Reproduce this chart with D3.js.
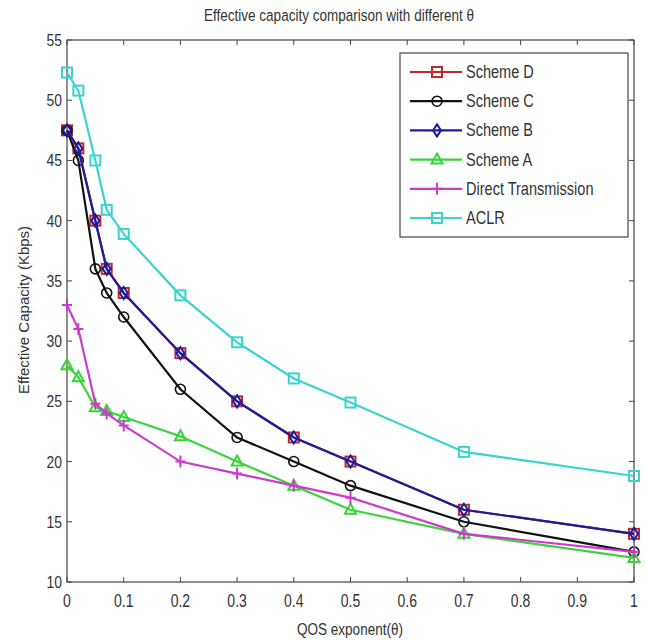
<!DOCTYPE html>
<html>
<head>
<meta charset="utf-8">
<script src="https://cdn.jsdelivr.net/npm/d3@7"></script>
<style>
  body { margin: 0; background: #fff; }
  text { font-family: 'Liberation Sans', Arial, sans-serif; fill: #333; }
</style>
</head>
<body>
<div class="chart"></div>
<script>
// Effective capacity vs QOS exponent

const THETA = [0, 0.02, 0.05, 0.07, 0.1, 0.2, 0.3, 0.4, 0.5, 0.7, 1]

const SCHEME_D = [47.5, 46, 40, 36, 34, 29, 25, 22, 20, 16, 14]
const SCHEME_C = [47.5, 45, 36, 34, 32, 26, 22, 20, 18, 15, 12.5]
const SCHEME_B = [47.5, 46, 40, 36, 34, 29, 25, 22, 20, 16, 14]
const SCHEME_A = [28, 27, 24.5, 24.2, 23.7, 22.1, 20, 18, 16, 14, 12]
const DIRECT = [33, 31, 24.8, 24, 23, 20, 19, 18, 17, 14, 12.5]
const ACLR = [52.3, 50.8, 45, 40.9, 38.9, 33.8, 29.9, 26.9, 24.9, 20.8, 18.8]

const X_TICKS = [0, 0.1, 0.2, 0.3, 0.4, 0.5, 0.6, 0.7, 0.8, 0.9, 1]
const Y_TICKS = [10, 15, 20, 25, 30, 35, 40, 45, 50, 55]

const SERIES = [
    { name: 'Scheme D', values: SCHEME_D, color: '#c0282c', marker: 'square' },
    { name: 'Scheme C', values: SCHEME_C, color: '#111111', marker: 'circle' },
    { name: 'Scheme B', values: SCHEME_B, color: '#1c1c9c', marker: 'diamond' },
    { name: 'Scheme A', values: SCHEME_A, color: '#3ad43a', marker: 'triangle' },
    { name: 'Direct Transmission', values: DIRECT, color: '#cc3ccc', marker: 'plus' },
    { name: 'ACLR', values: ACLR, color: '#3cd2d2', marker: 'square' },
]

var svgWidth = 646
var svgHeight = 642

var margin = { top: 40, bottom: 60, right: 12, left: 67 }
var width = svgWidth - margin.left - margin.right
var height = svgHeight - margin.top - margin.bottom

var svg = d3.select('.chart')
    .append('svg')
    .attr('width', svgWidth)
    .attr('height', svgHeight)

var chartGroup = svg.append('g')
    .attr('transform', `translate(${margin.left}, ${margin.top})`)

var xScale = d3.scaleLinear().domain([0, 1]).range([0, width])
var yScale = d3.scaleLinear().domain([10, 55]).range([height, 0])

// helper for squeezed, tall text like the matlab screenshot
function narrowText(parent, x, y, str, size, anchor, sx) {
    var g = parent.append('g').attr('transform', `translate(${x}, ${y}) scale(${sx || 0.82}, 1)`)
    g.append('text')
        .attr('text-anchor', anchor || 'middle')
        .attr('font-size', size + 'px')
        .text(str)
    return g
}

// ticks on all four sides, pointing inward
var tickLen = 5
X_TICKS.forEach(t => {
    chartGroup.append('line')
        .attr('x1', xScale(t)).attr('x2', xScale(t))
        .attr('y1', height).attr('y2', height - tickLen)
        .attr('stroke', '#444')
    chartGroup.append('line')
        .attr('x1', xScale(t)).attr('x2', xScale(t))
        .attr('y1', 0).attr('y2', tickLen)
        .attr('stroke', '#444')
    narrowText(chartGroup, xScale(t), height + 25, t, 18, 'middle', 0.78)
})
Y_TICKS.forEach(t => {
    chartGroup.append('line')
        .attr('x1', 0).attr('x2', tickLen)
        .attr('y1', yScale(t)).attr('y2', yScale(t))
        .attr('stroke', '#444')
    chartGroup.append('line')
        .attr('x1', width).attr('x2', width - tickLen)
        .attr('y1', yScale(t)).attr('y2', yScale(t))
        .attr('stroke', '#444')
    narrowText(chartGroup, -5, yScale(t) + 6, t, 17, 'end')
})

chartGroup.append('rect')
    .attr('width', width)
    .attr('height', height)
    .attr('fill', 'none')
    .attr('stroke', '#444')
    .attr('stroke-width', 1.2)

var line = d3.line()
    .x((d, i) => xScale(THETA[i]))
    .y(d => yScale(d))

function drawMarker(g, type, color) {
    if (type == 'square') {
        g.append('rect').attr('x', -5).attr('y', -5).attr('width', 10).attr('height', 10)
            .attr('fill', 'none').attr('stroke', color).attr('stroke-width', 2)
    } else if (type == 'circle') {
        g.append('circle').attr('r', 5)
            .attr('fill', 'none').attr('stroke', color).attr('stroke-width', 1.6)
    } else if (type == 'diamond') {
        g.append('path').attr('d', 'M0,-6L4,0L0,6L-4,0Z')
            .attr('fill', 'none').attr('stroke', color).attr('stroke-width', 2)
    } else if (type == 'triangle') {
        g.append('path').attr('d', 'M0,-6L5.5,4L-5.5,4Z')
            .attr('fill', 'none').attr('stroke', color).attr('stroke-width', 2)
    } else if (type == 'plus') {
        g.append('path').attr('d', 'M-5,0H5M0,-6V6')
            .attr('fill', 'none').attr('stroke', color).attr('stroke-width', 2)
    }
}

SERIES.forEach(s => {
    chartGroup.append('path')
        .datum(s.values)
        .attr('d', line)
        .attr('fill', 'none')
        .attr('stroke', s.color)
        .attr('stroke-width', 2.2)

    chartGroup.selectAll()
        .data(s.values)
        .enter()
        .append('g')
        .attr('transform', (d, i) => `translate(${xScale(THETA[i])}, ${yScale(d)})`)
        .each(function() { drawMarker(d3.select(this), s.marker, s.color) })
})

// Legend
var legend = svg.append('g').attr('transform', 'translate(400, 53)')
legend.append('rect')
    .attr('width', 228)
    .attr('height', 184)
    .attr('fill', '#fff')
    .attr('stroke', '#444')
    .attr('stroke-width', 1.2)

SERIES.forEach((s, i) => {
    var y = 19 + i * 29.2
    legend.append('line')
        .attr('x1', 10).attr('x2', 62)
        .attr('y1', y).attr('y2', y)
        .attr('stroke', s.color)
        .attr('stroke-width', 2.2)
    var m = legend.append('g').attr('transform', `translate(37, ${y})`)
    drawMarker(m, s.marker, s.color)
    narrowText(legend, 66, y + 6, s.name, 17.5, 'start', 0.83)
})

// Title and axis labels
narrowText(svg, 339, 21, 'Effective capacity comparison with different \u03b8', 16.5)
narrowText(svg, 350, 635, 'QOS exponent(\u03b8)', 16.5)
svg.append('text')
    .attr('transform', `translate(29, 310) rotate(-90)`)
    .attr('text-anchor', 'middle')
    .attr('font-size', '15px')
    .text('Effective Capacity (Kbps)')
</script>
</body>
</html>
